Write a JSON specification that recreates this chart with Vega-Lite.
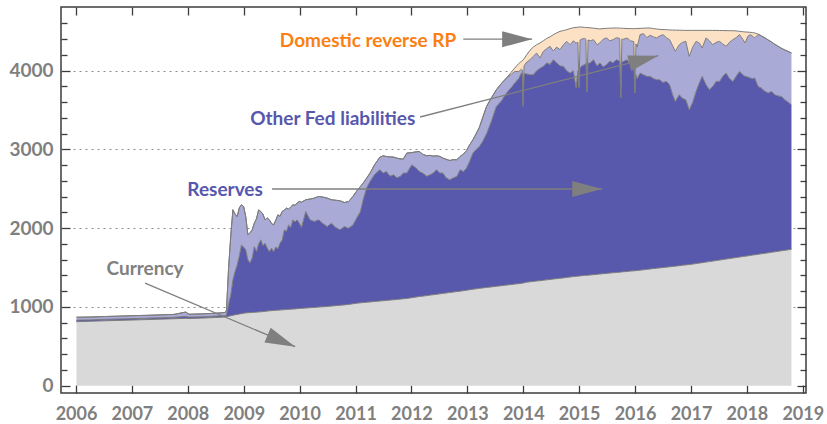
{
  "$schema": "https://vega.github.io/schema/vega-lite/v6.json",
  "width": 745,
  "height": 386,
  "autosize": "none",
  "padding": {"left": 61, "top": 7, "right": 21, "bottom": 31},
  "background": "white",
  "config": {"view": {"stroke": "#3c3c3c", "strokeWidth": 1.5}, "font": "Lato"},
  "datasets": {
    "fed": [
      {"d":"2006-01-04","a_currency":813,"b_reserves":20,"c_other":36,"d_rrp":0},
      {"d":"2006-04-05","a_currency":818,"b_reserves":18,"c_other":36,"d_rrp":0},
      {"d":"2006-07-05","a_currency":824,"b_reserves":19,"c_other":35,"d_rrp":0},
      {"d":"2006-10-04","a_currency":829,"b_reserves":18,"c_other":36,"d_rrp":0},
      {"d":"2007-01-03","a_currency":834,"b_reserves":18,"c_other":37,"d_rrp":0},
      {"d":"2007-04-04","a_currency":839,"b_reserves":18,"c_other":36,"d_rrp":0},
      {"d":"2007-07-04","a_currency":845,"b_reserves":18,"c_other":36,"d_rrp":0},
      {"d":"2007-10-03","a_currency":850,"b_reserves":18,"c_other":37,"d_rrp":0},
      {"d":"2007-12-19","a_currency":855,"b_reserves":25,"c_other":55,"d_rrp":0},
      {"d":"2008-01-09","a_currency":853,"b_reserves":18,"c_other":36,"d_rrp":0},
      {"d":"2008-04-02","a_currency":858,"b_reserves":18,"c_other":36,"d_rrp":0},
      {"d":"2008-07-02","a_currency":866,"b_reserves":18,"c_other":36,"d_rrp":0},
      {"d":"2008-09-03","a_currency":872,"b_reserves":19,"c_other":39,"d_rrp":0},
      {"d":"2008-09-10","a_currency":876,"b_reserves":24,"c_other":60,"d_rrp":0},
      {"d":"2008-09-24","a_currency":882,"b_reserves":158,"c_other":460,"d_rrp":0},
      {"d":"2008-10-08","a_currency":888,"b_reserves":262,"c_other":750,"d_rrp":0},
      {"d":"2008-10-22","a_currency":894,"b_reserves":450,"c_other":890,"d_rrp":0},
      {"d":"2008-11-05","a_currency":900,"b_reserves":550,"c_other":730,"d_rrp":0},
      {"d":"2008-11-19","a_currency":905,"b_reserves":629,"c_other":614,"d_rrp":0},
      {"d":"2008-12-03","a_currency":910,"b_reserves":740,"c_other":610,"d_rrp":0},
      {"d":"2008-12-17","a_currency":915,"b_reserves":873,"c_other":509,"d_rrp":0},
      {"d":"2008-12-31","a_currency":920,"b_reserves":840,"c_other":515,"d_rrp":0},
      {"d":"2009-01-14","a_currency":924,"b_reserves":801,"c_other":423,"d_rrp":0},
      {"d":"2009-01-28","a_currency":926,"b_reserves":672,"c_other":317,"d_rrp":0},
      {"d":"2009-02-11","a_currency":928,"b_reserves":632,"c_other":380,"d_rrp":0},
      {"d":"2009-02-25","a_currency":930,"b_reserves":693,"c_other":356,"d_rrp":0},
      {"d":"2009-03-11","a_currency":932,"b_reserves":835,"c_other":297,"d_rrp":0},
      {"d":"2009-03-25","a_currency":934,"b_reserves":769,"c_other":417,"d_rrp":0},
      {"d":"2009-04-08","a_currency":936,"b_reserves":864,"c_other":433,"d_rrp":0},
      {"d":"2009-04-22","a_currency":938,"b_reserves":914,"c_other":360,"d_rrp":0},
      {"d":"2009-05-06","a_currency":941,"b_reserves":839,"c_other":400,"d_rrp":0},
      {"d":"2009-05-20","a_currency":944,"b_reserves":866,"c_other":296,"d_rrp":0},
      {"d":"2009-06-03","a_currency":947,"b_reserves":803,"c_other":380,"d_rrp":0},
      {"d":"2009-06-17","a_currency":950,"b_reserves":753,"c_other":403,"d_rrp":0},
      {"d":"2009-07-01","a_currency":953,"b_reserves":793,"c_other":314,"d_rrp":0},
      {"d":"2009-07-15","a_currency":955,"b_reserves":748,"c_other":339,"d_rrp":0},
      {"d":"2009-07-29","a_currency":957,"b_reserves":803,"c_other":340,"d_rrp":0},
      {"d":"2009-08-12","a_currency":959,"b_reserves":781,"c_other":430,"d_rrp":0},
      {"d":"2009-08-26","a_currency":961,"b_reserves":849,"c_other":340,"d_rrp":0},
      {"d":"2009-09-09","a_currency":963,"b_reserves":887,"c_other":362,"d_rrp":0},
      {"d":"2009-09-23","a_currency":965,"b_reserves":1014,"c_other":251,"d_rrp":0},
      {"d":"2009-10-07","a_currency":967,"b_reserves":993,"c_other":295,"d_rrp":0},
      {"d":"2009-10-21","a_currency":969,"b_reserves":1073,"c_other":198,"d_rrp":0},
      {"d":"2009-11-04","a_currency":971,"b_reserves":1039,"c_other":260,"d_rrp":0},
      {"d":"2009-11-18","a_currency":973,"b_reserves":1133,"c_other":191,"d_rrp":0},
      {"d":"2009-12-02","a_currency":975,"b_reserves":1105,"c_other":210,"d_rrp":0},
      {"d":"2009-12-16","a_currency":978,"b_reserves":1128,"c_other":214,"d_rrp":0},
      {"d":"2009-12-30","a_currency":980,"b_reserves":1084,"c_other":275,"d_rrp":0},
      {"d":"2010-01-13","a_currency":982,"b_reserves":1028,"c_other":320,"d_rrp":0},
      {"d":"2010-02-10","a_currency":986,"b_reserves":1226,"c_other":149,"d_rrp":0},
      {"d":"2010-03-10","a_currency":990,"b_reserves":1116,"c_other":264,"d_rrp":0},
      {"d":"2010-04-07","a_currency":994,"b_reserves":1091,"c_other":297,"d_rrp":0},
      {"d":"2010-05-05","a_currency":998,"b_reserves":1108,"c_other":297,"d_rrp":0},
      {"d":"2010-06-02","a_currency":1002,"b_reserves":1058,"c_other":335,"d_rrp":0},
      {"d":"2010-06-30","a_currency":1006,"b_reserves":1015,"c_other":361,"d_rrp":0},
      {"d":"2010-07-28","a_currency":1011,"b_reserves":1053,"c_other":297,"d_rrp":0},
      {"d":"2010-08-25","a_currency":1016,"b_reserves":994,"c_other":345,"d_rrp":0},
      {"d":"2010-09-22","a_currency":1021,"b_reserves":958,"c_other":369,"d_rrp":0},
      {"d":"2010-10-20","a_currency":1026,"b_reserves":995,"c_other":305,"d_rrp":0},
      {"d":"2010-11-17","a_currency":1032,"b_reserves":968,"c_other":339,"d_rrp":0},
      {"d":"2010-12-15","a_currency":1040,"b_reserves":1002,"c_other":361,"d_rrp":0},
      {"d":"2011-01-12","a_currency":1048,"b_reserves":1092,"c_other":340,"d_rrp":0},
      {"d":"2011-02-02","a_currency":1052,"b_reserves":1160,"c_other":317,"d_rrp":0},
      {"d":"2011-02-23","a_currency":1056,"b_reserves":1326,"c_other":198,"d_rrp":0},
      {"d":"2011-03-16","a_currency":1060,"b_reserves":1460,"c_other":120,"d_rrp":0},
      {"d":"2011-04-06","a_currency":1064,"b_reserves":1529,"c_other":107,"d_rrp":0},
      {"d":"2011-05-04","a_currency":1069,"b_reserves":1609,"c_other":122,"d_rrp":0},
      {"d":"2011-06-08","a_currency":1075,"b_reserves":1667,"c_other":158,"d_rrp":0},
      {"d":"2011-07-01","a_currency":1079,"b_reserves":1621,"c_other":219,"d_rrp":0},
      {"d":"2011-07-22","a_currency":1083,"b_reserves":1637,"c_other":190,"d_rrp":0},
      {"d":"2011-08-15","a_currency":1087,"b_reserves":1573,"c_other":245,"d_rrp":0},
      {"d":"2011-09-07","a_currency":1091,"b_reserves":1587,"c_other":225,"d_rrp":0},
      {"d":"2011-09-28","a_currency":1095,"b_reserves":1545,"c_other":250,"d_rrp":0},
      {"d":"2011-10-19","a_currency":1099,"b_reserves":1558,"c_other":223,"d_rrp":0},
      {"d":"2011-11-09","a_currency":1103,"b_reserves":1597,"c_other":177,"d_rrp":0},
      {"d":"2011-12-02","a_currency":1107,"b_reserves":1593,"c_other":254,"d_rrp":0},
      {"d":"2012-01-04","a_currency":1118,"b_reserves":1687,"c_other":155,"d_rrp":0},
      {"d":"2012-02-01","a_currency":1126,"b_reserves":1637,"c_other":207,"d_rrp":0},
      {"d":"2012-02-22","a_currency":1132,"b_reserves":1588,"c_other":254,"d_rrp":0},
      {"d":"2012-03-14","a_currency":1137,"b_reserves":1563,"c_other":240,"d_rrp":0},
      {"d":"2012-04-11","a_currency":1144,"b_reserves":1516,"c_other":259,"d_rrp":0},
      {"d":"2012-05-02","a_currency":1150,"b_reserves":1528,"c_other":247,"d_rrp":0},
      {"d":"2012-05-23","a_currency":1155,"b_reserves":1545,"c_other":215,"d_rrp":0},
      {"d":"2012-06-13","a_currency":1160,"b_reserves":1582,"c_other":178,"d_rrp":0},
      {"d":"2012-07-05","a_currency":1166,"b_reserves":1534,"c_other":211,"d_rrp":0},
      {"d":"2012-07-25","a_currency":1172,"b_reserves":1528,"c_other":190,"d_rrp":0},
      {"d":"2012-08-15","a_currency":1177,"b_reserves":1463,"c_other":235,"d_rrp":0},
      {"d":"2012-09-08","a_currency":1183,"b_reserves":1432,"c_other":245,"d_rrp":0},
      {"d":"2012-10-01","a_currency":1189,"b_reserves":1451,"c_other":230,"d_rrp":0},
      {"d":"2012-10-24","a_currency":1195,"b_reserves":1462,"c_other":212,"d_rrp":0},
      {"d":"2012-11-14","a_currency":1200,"b_reserves":1542,"c_other":169,"d_rrp":0},
      {"d":"2012-12-05","a_currency":1206,"b_reserves":1514,"c_other":220,"d_rrp":0},
      {"d":"2012-12-26","a_currency":1212,"b_reserves":1551,"c_other":222,"d_rrp":0},
      {"d":"2013-01-16","a_currency":1219,"b_reserves":1631,"c_other":210,"d_rrp":0},
      {"d":"2013-02-06","a_currency":1225,"b_reserves":1729,"c_other":169,"d_rrp":0},
      {"d":"2013-02-27","a_currency":1230,"b_reserves":1770,"c_other":200,"d_rrp":0},
      {"d":"2013-03-20","a_currency":1236,"b_reserves":1802,"c_other":242,"d_rrp":0},
      {"d":"2013-04-10","a_currency":1241,"b_reserves":1859,"c_other":300,"d_rrp":0},
      {"d":"2013-05-06","a_currency":1247,"b_reserves":1953,"c_other":346,"d_rrp":0},
      {"d":"2013-06-05","a_currency":1254,"b_reserves":2096,"c_other":300,"d_rrp":0},
      {"d":"2013-07-09","a_currency":1262,"b_reserves":2284,"c_other":212,"d_rrp":0},
      {"d":"2013-08-12","a_currency":1270,"b_reserves":2350,"c_other":220,"d_rrp":0},
      {"d":"2013-09-13","a_currency":1277,"b_reserves":2440,"c_other":190,"d_rrp":0},
      {"d":"2013-10-12","a_currency":1284,"b_reserves":2496,"c_other":170,"d_rrp":25},
      {"d":"2013-11-06","a_currency":1290,"b_reserves":2553,"c_other":147,"d_rrp":44},
      {"d":"2013-12-02","a_currency":1296,"b_reserves":2604,"c_other":90,"d_rrp":100},
      {"d":"2013-12-20","a_currency":1300,"b_reserves":2670,"c_other":50,"d_rrp":99},
      {"d":"2013-12-26","a_currency":1301,"b_reserves":2659,"c_other":50,"d_rrp":115},
      {"d":"2013-12-31","a_currency":1303,"b_reserves":2243,"c_other":22,"d_rrp":572},
      {"d":"2014-01-06","a_currency":1306,"b_reserves":2659,"c_other":95,"d_rrp":90},
      {"d":"2014-01-19","a_currency":1313,"b_reserves":2647,"c_other":140,"d_rrp":90},
      {"d":"2014-02-14","a_currency":1319,"b_reserves":2630,"c_other":191,"d_rrp":120},
      {"d":"2014-03-07","a_currency":1324,"b_reserves":2625,"c_other":231,"d_rrp":120},
      {"d":"2014-03-29","a_currency":1329,"b_reserves":2671,"c_other":225,"d_rrp":105},
      {"d":"2014-04-20","a_currency":1334,"b_reserves":2696,"c_other":131,"d_rrp":191},
      {"d":"2014-05-12","a_currency":1339,"b_reserves":2716,"c_other":190,"d_rrp":135},
      {"d":"2014-06-03","a_currency":1344,"b_reserves":2756,"c_other":180,"d_rrp":130},
      {"d":"2014-06-25","a_currency":1349,"b_reserves":2731,"c_other":229,"d_rrp":121},
      {"d":"2014-07-16","a_currency":1354,"b_reserves":2786,"c_other":110,"d_rrp":207},
      {"d":"2014-08-07","a_currency":1359,"b_reserves":2741,"c_other":200,"d_rrp":180},
      {"d":"2014-08-29","a_currency":1364,"b_reserves":2696,"c_other":207,"d_rrp":233},
      {"d":"2014-09-20","a_currency":1369,"b_reserves":2686,"c_other":275,"d_rrp":180},
      {"d":"2014-10-12","a_currency":1375,"b_reserves":2625,"c_other":373,"d_rrp":148},
      {"d":"2014-11-03","a_currency":1380,"b_reserves":2590,"c_other":360,"d_rrp":205},
      {"d":"2014-11-24","a_currency":1385,"b_reserves":2615,"c_other":380,"d_rrp":165},
      {"d":"2014-12-12","a_currency":1389,"b_reserves":2394,"c_other":567,"d_rrp":200},
      {"d":"2014-12-24","a_currency":1391,"b_reserves":2609,"c_other":360,"d_rrp":192},
      {"d":"2014-12-31","a_currency":1393,"b_reserves":2387,"c_other":20,"d_rrp":755},
      {"d":"2015-01-07","a_currency":1394,"b_reserves":2646,"c_other":350,"d_rrp":165},
      {"d":"2015-01-15","a_currency":1396,"b_reserves":2659,"c_other":345,"d_rrp":155},
      {"d":"2015-02-06","a_currency":1400,"b_reserves":2680,"c_other":330,"d_rrp":140},
      {"d":"2015-02-14","a_currency":1401,"b_reserves":2689,"c_other":310,"d_rrp":149},
      {"d":"2015-02-21","a_currency":1402,"b_reserves":2328,"c_other":10,"d_rrp":808},
      {"d":"2015-02-28","a_currency":1403,"b_reserves":2692,"c_other":295,"d_rrp":157},
      {"d":"2015-03-15","a_currency":1406,"b_reserves":2694,"c_other":280,"d_rrp":165},
      {"d":"2015-04-05","a_currency":1410,"b_reserves":2730,"c_other":254,"d_rrp":146},
      {"d":"2015-04-28","a_currency":1414,"b_reserves":2646,"c_other":270,"d_rrp":205},
      {"d":"2015-05-16","a_currency":1418,"b_reserves":2682,"c_other":252,"d_rrp":178},
      {"d":"2015-06-07","a_currency":1422,"b_reserves":2628,"c_other":350,"d_rrp":135},
      {"d":"2015-06-29","a_currency":1426,"b_reserves":2650,"c_other":340,"d_rrp":122},
      {"d":"2015-07-20","a_currency":1430,"b_reserves":2690,"c_other":260,"d_rrp":160},
      {"d":"2015-08-11","a_currency":1434,"b_reserves":2666,"c_other":294,"d_rrp":148},
      {"d":"2015-09-02","a_currency":1438,"b_reserves":2702,"c_other":280,"d_rrp":122},
      {"d":"2015-09-23","a_currency":1441,"b_reserves":2679,"c_other":290,"d_rrp":131},
      {"d":"2015-09-30","a_currency":1443,"b_reserves":2210,"c_other":7,"d_rrp":880},
      {"d":"2015-10-07","a_currency":1445,"b_reserves":2665,"c_other":290,"d_rrp":139},
      {"d":"2015-10-19","a_currency":1447,"b_reserves":2673,"c_other":280,"d_rrp":138},
      {"d":"2015-11-10","a_currency":1451,"b_reserves":2689,"c_other":276,"d_rrp":120},
      {"d":"2015-12-02","a_currency":1455,"b_reserves":2625,"c_other":300,"d_rrp":155},
      {"d":"2015-12-24","a_currency":1458,"b_reserves":2602,"c_other":310,"d_rrp":164},
      {"d":"2015-12-31","a_currency":1460,"b_reserves":2256,"c_other":14,"d_rrp":804},
      {"d":"2016-01-07","a_currency":1461,"b_reserves":2489,"c_other":390,"d_rrp":195},
      {"d":"2016-01-15","a_currency":1463,"b_reserves":2437,"c_other":400,"d_rrp":236},
      {"d":"2016-02-03","a_currency":1467,"b_reserves":2503,"c_other":488,"d_rrp":80},
      {"d":"2016-02-25","a_currency":1472,"b_reserves":2478,"c_other":520,"d_rrp":70},
      {"d":"2016-03-18","a_currency":1477,"b_reserves":2451,"c_other":492,"d_rrp":122},
      {"d":"2016-04-09","a_currency":1482,"b_reserves":2446,"c_other":522,"d_rrp":92},
      {"d":"2016-05-01","a_currency":1487,"b_reserves":2413,"c_other":530,"d_rrp":105},
      {"d":"2016-05-20","a_currency":1491,"b_reserves":2395,"c_other":530,"d_rrp":114},
      {"d":"2016-06-10","a_currency":1496,"b_reserves":2390,"c_other":554,"d_rrp":85},
      {"d":"2016-07-02","a_currency":1500,"b_reserves":2350,"c_other":608,"d_rrp":64},
      {"d":"2016-07-24","a_currency":1505,"b_reserves":2359,"c_other":556,"d_rrp":101},
      {"d":"2016-08-14","a_currency":1510,"b_reserves":2312,"c_other":572,"d_rrp":124},
      {"d":"2016-09-02","a_currency":1514,"b_reserves":2186,"c_other":620,"d_rrp":196},
      {"d":"2016-09-20","a_currency":1518,"b_reserves":2092,"c_other":635,"d_rrp":270},
      {"d":"2016-10-16","a_currency":1524,"b_reserves":2171,"c_other":635,"d_rrp":184},
      {"d":"2016-11-06","a_currency":1529,"b_reserves":2121,"c_other":710,"d_rrp":153},
      {"d":"2016-11-28","a_currency":1534,"b_reserves":2097,"c_other":742,"d_rrp":139},
      {"d":"2016-12-20","a_currency":1538,"b_reserves":1966,"c_other":678,"d_rrp":330},
      {"d":"2017-01-12","a_currency":1544,"b_reserves":2056,"c_other":700,"d_rrp":212},
      {"d":"2017-02-03","a_currency":1551,"b_reserves":2186,"c_other":636,"d_rrp":139},
      {"d":"2017-02-25","a_currency":1557,"b_reserves":2293,"c_other":500,"d_rrp":162},
      {"d":"2017-03-15","a_currency":1562,"b_reserves":2366,"c_other":360,"d_rrp":224},
      {"d":"2017-04-09","a_currency":1570,"b_reserves":2252,"c_other":594,"d_rrp":96},
      {"d":"2017-05-01","a_currency":1576,"b_reserves":2182,"c_other":622,"d_rrp":132},
      {"d":"2017-05-23","a_currency":1582,"b_reserves":2218,"c_other":530,"d_rrp":182},
      {"d":"2017-06-14","a_currency":1589,"b_reserves":2275,"c_other":496,"d_rrp":152},
      {"d":"2017-07-06","a_currency":1595,"b_reserves":2269,"c_other":509,"d_rrp":137},
      {"d":"2017-07-27","a_currency":1601,"b_reserves":2327,"c_other":412,"d_rrp":170},
      {"d":"2017-08-18","a_currency":1608,"b_reserves":2362,"c_other":339,"d_rrp":200},
      {"d":"2017-09-09","a_currency":1614,"b_reserves":2286,"c_other":460,"d_rrp":148},
      {"d":"2017-10-01","a_currency":1621,"b_reserves":2243,"c_other":530,"d_rrp":114},
      {"d":"2017-10-23","a_currency":1627,"b_reserves":2303,"c_other":490,"d_rrp":85},
      {"d":"2017-11-14","a_currency":1633,"b_reserves":2358,"c_other":467,"d_rrp":42},
      {"d":"2017-12-05","a_currency":1640,"b_reserves":2310,"c_other":450,"d_rrp":95},
      {"d":"2017-12-20","a_currency":1644,"b_reserves":2284,"c_other":424,"d_rrp":140},
      {"d":"2018-01-08","a_currency":1649,"b_reserves":2271,"c_other":520,"d_rrp":50},
      {"d":"2018-01-23","a_currency":1653,"b_reserves":2254,"c_other":551,"d_rrp":29},
      {"d":"2018-02-06","a_currency":1658,"b_reserves":2242,"c_other":540,"d_rrp":44},
      {"d":"2018-02-21","a_currency":1662,"b_reserves":2245,"c_other":509,"d_rrp":64},
      {"d":"2018-03-15","a_currency":1668,"b_reserves":2132,"c_other":660,"d_rrp":5},
      {"d":"2018-04-05","a_currency":1675,"b_reserves":2105,"c_other":660,"d_rrp":5},
      {"d":"2018-04-28","a_currency":1681,"b_reserves":2059,"c_other":675,"d_rrp":3},
      {"d":"2018-05-20","a_currency":1687,"b_reserves":2029,"c_other":674,"d_rrp":0},
      {"d":"2018-06-10","a_currency":1694,"b_reserves":2043,"c_other":628,"d_rrp":0},
      {"d":"2018-07-02","a_currency":1700,"b_reserves":1995,"c_other":640,"d_rrp":0},
      {"d":"2018-07-24","a_currency":1706,"b_reserves":1974,"c_other":630,"d_rrp":0},
      {"d":"2018-08-14","a_currency":1713,"b_reserves":1960,"c_other":612,"d_rrp":0},
      {"d":"2018-09-06","a_currency":1719,"b_reserves":1912,"c_other":631,"d_rrp":0},
      {"d":"2018-09-27","a_currency":1725,"b_reserves":1875,"c_other":645,"d_rrp":0},
      {"d":"2018-10-19","a_currency":1732,"b_reserves":1836,"c_other":657,"d_rrp":0}
    ],
    "arrows": [
      {"xs":"2012-12-05","ys":4400,"xe":"2014-02-28","ye":4400,"ang":0},
      {"xs":"2012-02-27","ys":3412,"xe":"2016-06-01","ye":4190,"ang":345.5},
      {"xs":"2009-07-05","ys":2498,"xe":"2015-06-01","ye":2498,"ang":0},
      {"xs":"2007-03-28","ys":1303,"xe":"2009-12-03","ye":495,"ang":22.9}
    ],
    "labels": [
      {"tx":"2011-03-24","ty":4377,"label":"Domestic reverse RP","col":"#fb7f12"},
      {"tx":"2010-08-05","ty":3393,"label":"Other Fed liabilities","col":"#5757ad"},
      {"tx":"2008-09-01","ty":2485,"label":"Reserves","col":"#5757ad"},
      {"tx":"2007-03-28","ty":1482,"label":"Currency","col":"#808080"}
    ]
  },
  "layer": [
    {
      "data": {"name": "fed"},
      "transform": [{"fold": ["a_currency", "b_reserves", "c_other", "d_rrp"], "as": ["series", "v"]}],
      "mark": {"type": "area", "interpolate": "linear"},
      "encoding": {
        "x": {"field": "d", "type": "temporal",
          "scale": {"domain": [{"year": 2005, "month": 9, "date": 25}, {"year": 2019, "month": 1, "date": 22}]},
          "axis": {"orient": "bottom", "title": null, "format": "%Y", "tickCount": {"interval": "year", "step": 1},
            "labelFont": "Lato", "labelFontSize": 18, "labelFontWeight": "bold", "labelColor": "#7f7f7f",
            "labelFlush": false, "labelOverlap": false, "labelPadding": 20,
            "ticks": true, "tickSize": -8, "tickColor": "#3c3c3c", "tickWidth": 1.3,
            "domain": false, "grid": false}},
        "y": {"field": "v", "type": "quantitative", "stack": "zero",
          "scale": {"domain": [-93, 4809], "nice": false, "zero": false},
          "axis": {"orient": "left", "title": null, "format": "d", "values": [0, 1000, 2000, 3000, 4000],
            "labelFont": "Lato", "labelFontSize": 19, "labelFontWeight": "bold", "labelColor": "#7f7f7f",
            "labelPadding": 17, "ticks": true, "tickSize": -9, "tickColor": "#3c3c3c", "tickWidth": 1.3,
            "domain": false, "grid": true, "gridColor": "#8c8c8c", "gridDash": [2, 4], "gridWidth": 1,
            "gridOpacity": {"condition": {"test": "datum.value === 0", "value": 0}, "value": 1}}},
        "color": {"field": "series", "type": "nominal",
          "scale": {"domain": ["a_currency", "b_reserves", "c_other", "d_rrp"], "range": ["#d9d9d9", "#5858ad", "#aaaad7", "#fde1c5"]},
          "legend": null},
        "order": {"sort": "ascending"}
      }
    },
    {
      "data": {"name": "fed"},
      "transform": [{"fold": ["a_currency", "b_reserves", "c_other", "d_rrp"], "as": ["series", "v"]}],
      "mark": {"type": "line", "color": "#7c7c7c", "strokeWidth": 1, "interpolate": "linear"},
      "encoding": {
        "x": {"field": "d", "type": "temporal",
          "scale": {"domain": [{"year": 2005, "month": 9, "date": 25}, {"year": 2019, "month": 1, "date": 22}]},
          "axis": null},
        "y": {"field": "v", "type": "quantitative", "stack": "zero",
          "scale": {"domain": [-93, 4809], "nice": false, "zero": false}, "axis": null},
        "detail": {"field": "series", "type": "nominal"},
        "order": {"sort": "ascending"}
      }
    },
    {
      "data": {"name": "arrows"},
      "mark": {"type": "rule", "color": "#7f7f7f", "strokeWidth": 1.3},
      "encoding": {
        "x": {"field": "xs", "type": "temporal",
          "scale": {"domain": [{"year": 2005, "month": 9, "date": 25}, {"year": 2019, "month": 1, "date": 22}]},
          "axis": {"orient": "top", "title": null, "labels": false, "tickCount": {"interval": "year", "step": 1},
            "ticks": true, "tickSize": -8, "tickColor": "#3c3c3c", "tickWidth": 1.3, "domain": false, "grid": false}},
        "y": {"field": "ys", "type": "quantitative",
          "scale": {"domain": [-93, 4809], "nice": false, "zero": false},
          "axis": {"orient": "right", "title": null, "labels": false, "values": [0, 1000, 2000, 3000, 4000],
            "ticks": true, "tickSize": -9, "tickColor": "#3c3c3c", "tickWidth": 1.3, "domain": false, "grid": false}},
        "x2": {"field": "xe"},
        "y2": {"field": "ye"}
      }
    },
    {
      "data": {"name": "arrows"},
      "mark": {"type": "point", "shape": "M0,0L-2,-0.533L-2,0.533Z", "size": 900, "filled": true, "color": "#7f7f7f", "opacity": 1, "strokeWidth": 0},
      "encoding": {
        "x": {"field": "xe", "type": "temporal",
          "scale": {"domain": [{"year": 2005, "month": 9, "date": 25}, {"year": 2019, "month": 1, "date": 22}]},
          "axis": null},
        "y": {"field": "ye", "type": "quantitative",
          "scale": {"domain": [-93, 4809], "nice": false, "zero": false},
          "axis": {"orient": "left", "title": null, "labels": false,
            "values": [200, 400, 600, 800, 1200, 1400, 1600, 1800, 2200, 2400, 2600, 2800, 3200, 3400, 3600, 3800, 4200, 4400, 4600],
            "ticks": true, "tickSize": -6, "tickColor": "#3c3c3c", "tickWidth": 1.3, "domain": false, "grid": false}},
        "angle": {"field": "ang", "type": "quantitative", "scale": null}
      }
    },
    {
      "data": {"name": "labels"},
      "mark": {"type": "text", "font": "Lato", "fontSize": 19, "fontWeight": "bold", "align": "center", "baseline": "middle"},
      "encoding": {
        "x": {"field": "tx", "type": "temporal",
          "scale": {"domain": [{"year": 2005, "month": 9, "date": 25}, {"year": 2019, "month": 1, "date": 22}]},
          "axis": null},
        "y": {"field": "ty", "type": "quantitative",
          "scale": {"domain": [-93, 4809], "nice": false, "zero": false},
          "axis": {"orient": "right", "title": null, "labels": false,
            "values": [200, 400, 600, 800, 1200, 1400, 1600, 1800, 2200, 2400, 2600, 2800, 3200, 3400, 3600, 3800, 4200, 4400, 4600],
            "ticks": true, "tickSize": -6, "tickColor": "#3c3c3c", "tickWidth": 1.3, "domain": false, "grid": false}},
        "text": {"field": "label", "type": "nominal"},
        "color": {"field": "col", "type": "nominal", "scale": null}
      }
    }
  ],
  "resolve": {"axis": {"x": "independent", "y": "independent"}}
}
